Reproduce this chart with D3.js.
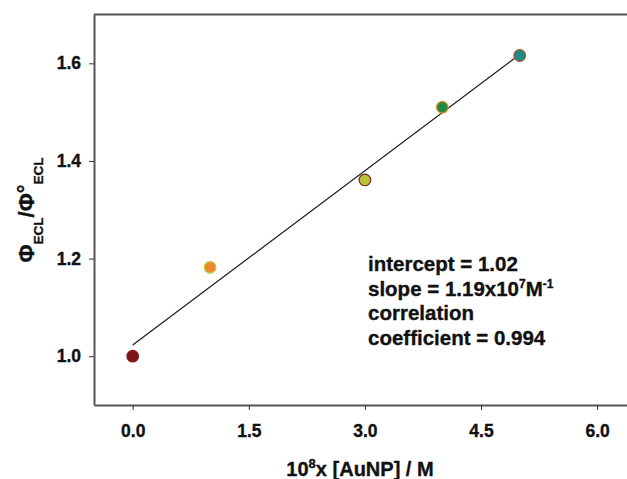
<!DOCTYPE html>
<html>
<head>
<meta charset="utf-8">
<script src="https://cdn.jsdelivr.net/npm/d3@7"></script>
<style>
  html, body { margin: 0; padding: 0; background: #fff; }
  svg { display: block; font-family: "Liberation Sans", Arial, sans-serif; font-weight: bold; }
  svg text { stroke: #111; stroke-width: 0.35px; }
</style>
</head>
<body>
<svg id="chart" width="627" height="479"></svg>
<script>
// ---- data ----
const concentrations = [0, 1, 3, 4, 5];              // 10^8 x [AuNP] / M
const ratios = [1.0, 1.182, 1.361, 1.510, 1.616];     // Φ_ECL / Φ°_ECL
const fitIntercept = 1.023;
const fitSlope = 0.119;
const fitRange = [0, 4.93];
const xTicks = [0, 1.5, 3.0, 4.5, 6.0];
const yTicks = [1.0, 1.2, 1.4, 1.6];
const pointFills = ["#7e1518", "#f0872c", "#b9c234", "#1f8b43", "#1b8a8b"];
const pointStrokes = ["#8a1c1c", "#b8cc3c", "#7a2222", "#f08a2c", "#a2562e"];

// ---- layout ----
const svg = d3.select("#chart");
const plotLeft = 94, plotTop = 14.5, plotBottom = 405;
const x = d3.scaleLinear().domain([-0.5, 7.0]).range([plotLeft, plotLeft + 7.5 * 77.4]);
const y = d3.scaleLinear().domain([0.9, 1.7]).range([plotBottom, plotTop]);
const axisColor = "#555";
const fontFam = "Liberation Sans, Arial, sans-serif";

svg.append("rect").attr("width", 627).attr("height", 479).attr("fill", "#fff");

// top frame line
svg.append("line")
  .attr("x1", x(-0.5)).attr("x2", x(7.0))
  .attr("y1", y(1.7)).attr("y2", y(1.7))
  .attr("stroke", axisColor).attr("stroke-width", 2);

// x axis
const gx = svg.append("g").attr("transform", `translate(0,${plotBottom})`)
  .call(d3.axisBottom(x).tickValues(xTicks).tickFormat(d3.format(".1f"))
    .tickSize(5).tickSizeOuter(0).tickPadding(15));
gx.select(".domain").attr("stroke", axisColor).attr("stroke-width", 2);
gx.selectAll(".tick line").attr("stroke", "#333").attr("stroke-width", 1);
gx.selectAll(".tick text").attr("font-size", 17.5).attr("font-weight", "bold")
  .attr("font-family", fontFam).attr("fill", "#111");

// y axis
const gy = svg.append("g").attr("transform", `translate(${plotLeft},0)`)
  .call(d3.axisLeft(y).tickValues(yTicks).tickFormat(d3.format(".1f"))
    .tickSize(5).tickSizeOuter(0).tickPadding(8));
gy.select(".domain").attr("stroke", axisColor).attr("stroke-width", 2);
gy.selectAll(".tick line").attr("stroke", "#333").attr("stroke-width", 1);
gy.selectAll(".tick text").attr("font-size", 17.5).attr("font-weight", "bold")
  .attr("font-family", fontFam).attr("fill", "#111");

// x title
const xt = svg.append("text")
  .attr("x", 360).attr("y", 476)
  .attr("text-anchor", "middle").attr("font-size", 20).attr("fill", "#111");
xt.append("tspan").text("10");
xt.append("tspan").attr("font-size", 13).attr("dy", -8).text("8");
xt.append("tspan").attr("dy", 8).text("x [AuNP] / M");

// y title
const yt = svg.append("text")
  .attr("transform", "translate(34,210) rotate(-90)")
  .attr("text-anchor", "middle").attr("font-size", 22).attr("fill", "#111");
yt.append("tspan").text("Φ");
yt.append("tspan").attr("font-size", 13.5).attr("dy", 9).text("ECL");
yt.append("tspan").attr("dy", -9).text("/Φ");
yt.append("tspan").attr("dy", -1).text("°");
yt.append("tspan").attr("font-size", 13.5).attr("dy", 10).text("ECL");

// regression line
const fit = fitRange.map(v => [v, fitIntercept + fitSlope * v]);
svg.append("path")
  .attr("d", d3.line().x(d => x(d[0])).y(d => y(d[1]))(fit))
  .attr("fill", "none").attr("stroke", "#1a1a1a").attr("stroke-width", 1.2);

// points
svg.append("g").selectAll("circle")
  .data(concentrations.map((c, i) => ({c, r: ratios[i], i})))
  .join("circle")
  .attr("cx", d => x(d.c)).attr("cy", d => y(d.r)).attr("r", 5.8)
  .attr("fill", d => pointFills[d.i]).attr("stroke", d => pointStrokes[d.i])
  .attr("stroke-width", 1.2);

// annotation
const ann = svg.append("text").attr("font-size", 20.5).attr("fill", "#111");
ann.append("tspan").attr("x", 368).attr("y", 271).text("intercept = 1.02");
const l2 = ann.append("tspan").attr("x", 368).attr("y", 296);
l2.append("tspan").text("slope = 1.19x10");
l2.append("tspan").attr("font-size", 12).attr("dy", -8).text("7");
l2.append("tspan").attr("dy", 8).text("M");
l2.append("tspan").attr("font-size", 12).attr("dy", -8).text("-1");
ann.append("tspan").attr("x", 368).attr("y", 320).text("correlation");
ann.append("tspan").attr("x", 368).attr("y", 345).text("coefficient = 0.994");
</script>
</body>
</html>
